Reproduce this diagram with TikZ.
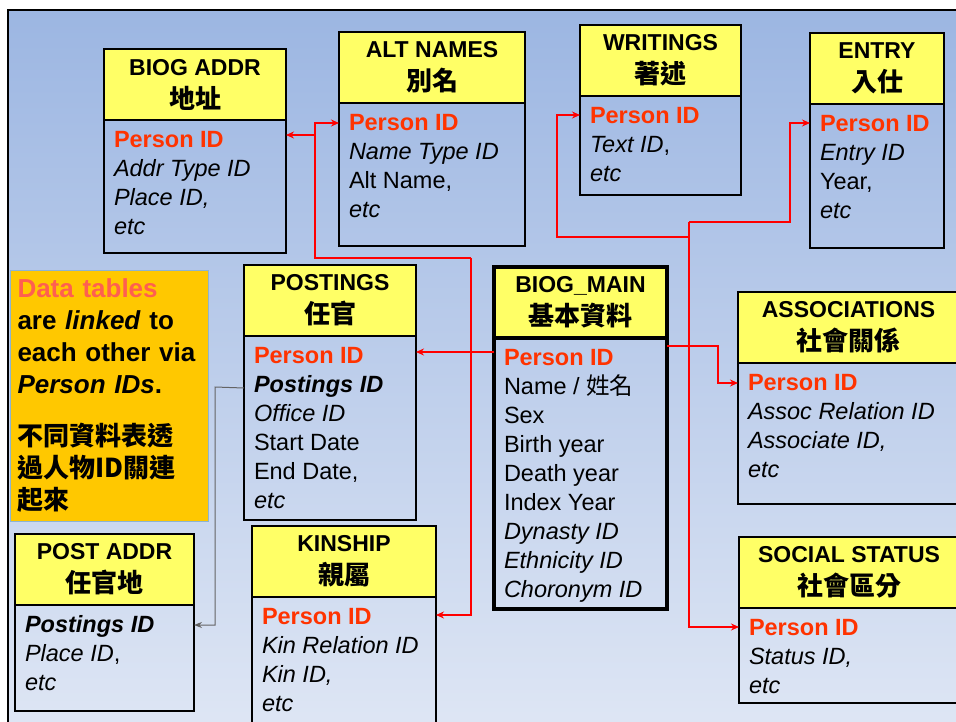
\documentclass[tikz,border=0pt]{standalone}
\usepackage{fontspec}
\setmainfont{Liberation Sans}
\newfontfamily\cjkfont{Noto Sans CJK TC}
\usetikzlibrary{positioning,arrows.meta}

\definecolor{headyellow}{RGB}{255,255,102}
\definecolor{pidred}{RGB}{255,51,0}
\definecolor{linkred}{RGB}{255,0,0}
\definecolor{noteorange}{RGB}{255,200,0}
\definecolor{notered}{RGB}{255,95,80}
\definecolor{noteframe}{RGB}{140,180,210}
\definecolor{bgtop}{RGB}{156,182,226}
\definecolor{bgbottom}{RGB}{225,232,245}
\definecolor{postgray}{RGB}{100,100,100}

\newcommand{\zh}[1]{{\cjkfont #1}}
\newcommand{\zhhead}[1]{{\cjkfont\fontsize{26}{33}\selectfont #1}}
\newcommand{\pid}{\textcolor{pidred}{\textbf{Person ID}}}

% one table: header on top, body below it
% [style] name, (x,y), width, header, body height, body
\newcommand{\dbtable}[7][]{%
  \node[tblhead, #1, minimum width=#4] (#2) at #3 {#5};
  \node[tblbody, #1, below=0pt of #2] (#2-body)
    {\parbox[t][\dimexpr#6-14pt\relax][t]{\dimexpr#4-20pt\relax}{\raggedright\strut#7}};
}

\begin{document}
\begin{tikzpicture}[x=1pt, y=-1pt,
    tblhead/.style={draw, fill=headyellow, line width=2pt, outer sep=0pt, inner sep=0pt,
      anchor=north west, minimum height=71pt, align=center,
      font=\bfseries\fontsize{23}{33}\selectfont},
    tblbody/.style={draw, line width=2pt, outer sep=0pt, inner xsep=10pt, inner ysep=7pt,
      font=\fontsize{23.5}{29}\selectfont},
    mainbox/.style={line width=4.5pt},
    notebox/.style={draw=noteframe, line width=1pt, fill=noteorange, anchor=north west,
      minimum width=198pt, minimum height=251pt, text width=184pt, inner xsep=7pt,
      align=left, font=\bfseries\fontsize{26}{32}\selectfont},
    link/.style={draw=linkred, line width=2pt, -{Stealth[length=8pt,width=7pt]}},
    postlink/.style={draw=postgray, line width=1pt, -{Stealth[length=8pt,width=6pt,fill=black]}}
  ]
  \useasboundingbox (0,0) rectangle (956,722);
  \clip (0,0) rectangle (956,722);
  \fill[white] (0,0) rectangle (956,722);
  \shade[top color=bgtop, bottom color=bgbottom] (8,10) rectangle (1000,760);
  \draw[line width=2.5pt] (8,10) rectangle (1000,760);

  % tables
  \dbtable{addr}{(104,49)}{182pt}{BIOG ADDR\\ \zhhead{地址}}{133pt}
    {\pid\\ \textit{Addr Type ID}\\ \textit{Place ID,}\\ \textit{etc}}
  \dbtable{alt}{(339,32)}{186pt}{ALT NAMES\\ \zhhead{別名}}{143pt}
    {\pid\\ \textit{Name Type ID}\\ Alt Name,\\ \textit{etc}}
  \dbtable{writ}{(580,25)}{161pt}{WRITINGS\\ \zhhead{著述}}{99pt}
    {\pid\\ \textit{Text ID},\\ \textit{etc}}
  \dbtable{entry}{(810,33)}{134pt}{ENTRY\\ \zhhead{入仕}}{144pt}
    {\pid\\ \textit{Entry ID}\\ Year,\\ \textit{etc}}
  \dbtable{post}{(244,265)}{172pt}{POSTINGS\\ \zhhead{任官}}{184pt}
    {\pid\\ \textbf{\textit{Postings ID}}\\ \textit{Office ID}\\ Start Date\\ End Date,\\ \textit{etc}}
  \dbtable[mainbox]{main}{(494,267)}{173pt}{BIOG\_MAIN\\ \zhhead{基本資料}}{271pt}
    {\pid\\ Name / \zh{姓名}\\ Sex\\ Birth year\\ Death year\\ Index Year\\
     \textit{Dynasty ID}\\ \textit{Ethnicity ID}\\ \textit{Choronym ID}}
  \dbtable{assoc}{(738,292)}{221pt}{ASSOCIATIONS\\ \zhhead{社會關係}}{141pt}
    {\pid\\ \textit{Assoc Relation ID}\\ \textit{Associate ID,}\\ \textit{etc}}
  \dbtable{status}{(739,537)}{220pt}{SOCIAL STATUS\\ \zhhead{社會區分}}{95pt}
    {\pid\\ \textit{Status ID,}\\ \textit{etc}}
  \dbtable{kin}{(252,526)}{184pt}{KINSHIP\\ \zhhead{親屬}}{140pt}
    {\pid\\ \textit{Kin Relation ID}\\ \textit{Kin ID,}\\ \textit{etc}}
  \dbtable{padr}{(15,534)}{179pt}{POST ADDR\\ \zhhead{任官地}}{106pt}
    {\textbf{\textit{Postings ID}}\\ \textit{Place ID},\\ \textit{etc}}

  % note
  \node[notebox] (note) at (10,270) {\textcolor{notered}{Data tables}\\
    are \textit{linked} to\\
    each other via\\
    \textit{Person IDs}.\\[20pt]
    \zh{不同資料表透}\\
    \zh{過人物ID關連}\\
    \zh{起來}};

  % Person ID rows
  \coordinate (addr-pid) at ([yshift=-15pt]addr-body.north east);
  \coordinate (alt-pid) at ([yshift=-20pt]alt-body.north west);
  \coordinate (writ-pid) at ([yshift=-19pt]writ-body.north west);
  \coordinate (entry-pid) at ([yshift=-19pt]entry-body.north west);
  \coordinate (main-pid) at ([yshift=-14pt]main-body.north west);
  \coordinate (main-pidr) at ([yshift=-8pt]main-body.north east);
  \coordinate (assoc-pid) at ([yshift=-20pt]assoc-body.north west);
  \coordinate (status-pid) at ([yshift=-19pt]status-body.north west);
  \coordinate (kin-pid) at ([yshift=-18pt]kin-body.north east);
  \coordinate (padr-pid) at ([yshift=-20pt]padr-body.north east);
  \coordinate (post-ref) at ([yshift=-52pt]post-body.north west);

  % bends
  \coordinate (lsplit) at (471,258);
  \coordinate (lfork) at (315,258);
  \coordinate (rsplit) at (689,222);
  \coordinate (rtop) at (790,222);
  \coordinate (rleft) at (557,237);
  \coordinate (rbend) at (718,346);
  \coordinate (gbend) at (215,387);

  % links
  \draw[link] (main-pid) -- (main-pid -| post-body.east);
  \draw[link] (lsplit) -- (lfork) |- (alt-pid);
  \draw[link] (lfork |- addr-pid) -- (addr-pid);
  \draw[link] (lsplit) |- (kin-pid);

  \draw[link] (main-pidr) -- (rbend) |- (assoc-pid);
  \draw[link] (rsplit) -- (rtop) |- (entry-pid);
  \draw[link] (rsplit |- rleft) -- (rleft) |- (writ-pid);
  \draw[link] (rsplit) |- (status-pid);

  \draw[postlink] (post-ref) -- (gbend) |- (padr-pid);
\end{tikzpicture}
\end{document}
